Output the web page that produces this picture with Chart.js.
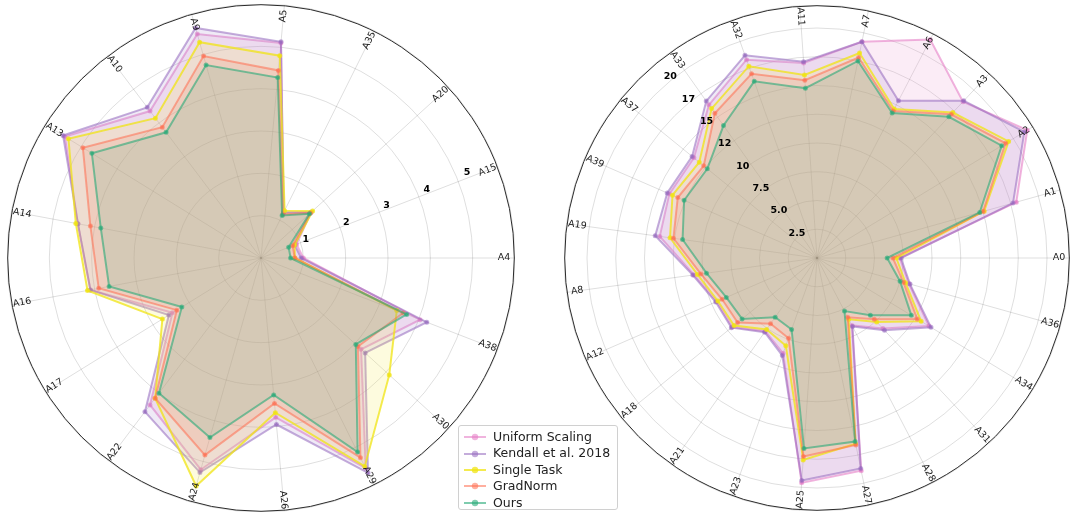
<!DOCTYPE html>
<html>
<head>
<meta charset="utf-8">
<script src="https://cdn.jsdelivr.net/npm/chart.js@4.4.0/dist/chart.umd.min.js"></script>
<style>
  html, body { margin: 0; padding: 0; background: #fff; }
  body { width: 1080px; height: 523px; position: relative; overflow: hidden; font-family: "DejaVu Sans", sans-serif; }
  canvas { position: absolute; }
  #leftChart { left: 7px; top: 4px; }
  #rightChart { left: 564px; top: 5px; }
  #legend {
    position: absolute; left: 458px; top: 425px; width: 160px; height: 85px;
    background: rgba(255,255,255,0.85); border: 1px solid #d0d0d0; border-radius: 3px;
    font-size: 12.5px; color: #222; z-index: 5; box-sizing: border-box; padding: 3px 0 0 4px;
  }
  #legend .row { height: 16.4px; line-height: 16.4px; white-space: nowrap; display: flex; align-items: center; }
  #legend svg { margin-right: 6px; flex: none; }
</style>
</head>
<body>
<canvas id="leftChart" width="508" height="508"></canvas>
<canvas id="rightChart" width="506" height="506"></canvas>
<div id="legend"></div>
<script>
// series names and colours
const seriesNames = ['Uniform Scaling', 'Kendall et al. 2018', 'Single Task', 'GradNorm', 'Ours'];
const lineColors = ['rgba(227,119,194,0.55)', 'rgba(148,103,189,0.55)', 'rgba(240,228,20,0.75)', 'rgba(255,110,80,0.55)', 'rgba(40,170,120,0.6)'];
const fillColors = ['rgba(230,140,200,0.17)', 'rgba(160,130,200,0.17)', 'rgba(245,230,60,0.17)', 'rgba(245,130,100,0.17)', 'rgba(90,180,140,0.17)'];

// left radar (clockwise from east, as Chart.js walks the spokes)
const leftLabels = ['A4', 'A38', 'A30', 'A29', 'A26', 'A24', 'A22', 'A17', 'A16', 'A14', 'A13', 'A10', 'A9', 'A5', 'A35', 'A20', 'A15'];
const leftUniform = [1.0, 4.03, 3.2, 5.55, 3.78, 5.2, 4.35, 2.46, 4.1, 4.4, 5.45, 4.35, 5.5, 5.1, 1.2, 1.6, 0.9];
const leftKendall = [0.95, 4.2, 3.33, 5.67, 3.95, 5.27, 4.55, 2.56, 4.1, 4.4, 5.5, 4.46, 5.65, 5.13, 1.2, 1.6, 0.85];
const leftSingle = [0.8, 3.44, 4.1, 5.5, 3.67, 5.6, 4.15, 2.74, 4.17, 4.45, 5.35, 4.14, 5.3, 4.8, 1.25, 1.65, 0.85];
const leftGradNorm = [0.8, 3.6, 3.1, 5.27, 3.45, 4.84, 4.15, 2.34, 3.9, 4.1, 4.95, 3.87, 4.96, 4.45, 1.15, 1.58, 0.8];
const leftOurs = [0.7, 3.69, 3.03, 5.12, 3.25, 4.41, 4.0, 2.2, 3.65, 3.85, 4.7, 3.72, 4.74, 4.28, 1.12, 1.55, 0.7];
const leftTicks = [1, 2, 3, 4, 5];
const leftTickLabels = ['1', '2', '3', '4', '5'];
const leftMax = 6;

// right radar
const rightLabels = ['A0', 'A36', 'A34', 'A31', 'A28', 'A27', 'A25', 'A23', 'A21', 'A18', 'A12', 'A8', 'A19', 'A39', 'A37', 'A33', 'A32', 'A11', 'A7', 'A6', 'A3', 'A2', 'A1'];
const rightUniform = [7.2, 8.3, 11.4, 8.4, 6.6, 18.9, 19.6, 8.8, 7.8, 9.5, 9.5, 10.8, 13.8, 14.0, 13.8, 16.3, 18.3, 17.0, 19.2, 21.4, 18.6, 21.4, 18.0];
const rightKendall = [7.3, 8.4, 11.6, 8.6, 6.7, 18.7, 19.4, 9.0, 7.9, 9.6, 9.6, 10.9, 14.2, 14.2, 14.0, 16.7, 18.7, 17.1, 19.2, 15.4, 18.7, 21.1, 17.7];
const rightSingle = [6.9, 8.0, 10.6, 7.6, 6.0, 16.5, 17.6, 8.1, 7.6, 9.3, 9.4, 10.5, 12.9, 13.7, 13.2, 15.9, 17.7, 15.95, 18.2, 14.6, 17.3, 19.5, 15.1];
const rightGradNorm = [6.6, 7.8, 10.2, 7.3, 5.8, 16.6, 17.3, 7.4, 7.0, 8.9, 9.0, 10.2, 12.6, 13.2, 12.7, 15.4, 17.0, 15.5, 17.8, 14.4, 17.1, 19.2, 15.0];
const rightOurs = [6.1, 7.5, 9.6, 6.8, 5.2, 16.3, 16.6, 6.6, 6.3, 8.4, 8.6, 9.7, 11.8, 12.6, 12.3, 14.1, 16.3, 14.8, 17.5, 14.2, 16.8, 18.8, 14.7];
const rightTicks = [2.5, 5, 7.5, 10, 12.5, 15, 17.5, 20];
const rightTickLabels = ['2.5', '5.0', '7.5', '10', '12', '15', '17', '20'];
const rightMax = 22;

function makeDatasets(series) {
    return series.map((vals, i) => ({
        label: seriesNames[i],
        data: vals,
        borderColor: lineColors[i],
        backgroundColor: fillColors[i],
        pointBackgroundColor: lineColors[i],
        pointBorderColor: lineColors[i],
        pointRadius: 1.5,
        borderWidth: 2,
        fill: true,
        order: series.length - i   // Ours drawn last, on top
    }));
}

// rim labels, radial tick labels and the black outer circle
const rimPlugin = {
    id: 'rim',
    afterDraw(chart, args, opts) {
        const r = chart.scales.r;
        const ctx = chart.ctx;
        ctx.save();
        ctx.beginPath();
        ctx.arc(r.xCenter, r.yCenter, r.drawingArea - 0.7, 0, Math.PI * 2);
        ctx.strokeStyle = '#2a2a2a';
        ctx.lineWidth = 1;
        ctx.stroke();

        ctx.font = '9.5px "DejaVu Sans"';
        ctx.fillStyle = '#222';
        ctx.textAlign = 'center';
        ctx.textBaseline = 'middle';
        chart.data.labels.forEach((lab, i) => {
            const p = r.getPointPosition(i, r.drawingArea - 11);
            let a = p.angle;
            while (a > Math.PI) a -= Math.PI * 2;
            while (a <= -Math.PI) a += Math.PI * 2;
            if (a > Math.PI / 2 + 1e-6) a -= Math.PI;
            else if (a < -Math.PI / 2 - 1e-6) a += Math.PI;
            ctx.save();
            ctx.translate(p.x, p.y);
            ctx.rotate(a);
            ctx.fillText(lab, 0, 0);
            ctx.restore();
        });

        ctx.font = 'bold 9.5px "DejaVu Sans"';
        ctx.fillStyle = '#000';
        const ang = opts.tickAngle * Math.PI / 180;
        opts.ticks.forEach((v, i) => {
            const d = r.getDistanceFromCenterForValue(v) * opts.tickScale + opts.tickOffset;
            ctx.fillText(opts.tickLabels[i], r.xCenter + Math.cos(ang) * d, r.yCenter + Math.sin(ang) * d);
        });
        ctx.restore();
    }
};

function makeRadar(id, labels, series, max, step, tickOpts) {
    return new Chart(document.getElementById(id), {
        type: 'radar',
        data: { labels: labels, datasets: makeDatasets(series) },
        options: {
            responsive: false,
            animation: false,
            layout: { padding: 0 },
            plugins: {
                legend: { display: false },
                tooltip: { enabled: false },
                rim: tickOpts
            },
            scales: {
                r: {
                    min: 0,
                    max: max,
                    startAngle: 90,
                    ticks: { stepSize: step, display: false, showLabelBackdrop: false },
                    pointLabels: { display: false },
                    grid: { circular: true, color: 'rgba(0,0,0,0.13)', lineWidth: 1 },
                    angleLines: { color: 'rgba(0,0,0,0.13)', lineWidth: 1 }
                }
            }
        },
        plugins: [rimPlugin]
    });
}

makeRadar('leftChart', leftLabels,
    [leftUniform, leftKendall, leftSingle, leftGradNorm, leftOurs], leftMax, 1,
    { ticks: leftTicks, tickLabels: leftTickLabels, tickAngle: -22.5, tickScale: 1.03, tickOffset: 5 });

makeRadar('rightChart', rightLabels,
    [rightUniform, rightKendall, rightSingle, rightGradNorm, rightOurs], rightMax, 2.5,
    { ticks: rightTicks, tickLabels: rightTickLabels, tickAngle: -129, tickScale: 1.0, tickOffset: 3 });

// legend: line with circle marker, like the reference
const legend = document.getElementById('legend');
seriesNames.forEach((name, i) => {
    const row = document.createElement('div');
    row.className = 'row';
    row.innerHTML = `<svg width="24" height="10"><line x1="1" y1="5" x2="23" y2="5" stroke="${lineColors[i]}" stroke-width="2"/>` +
        `<circle cx="12" cy="5" r="3.2" fill="${lineColors[i]}"/></svg><span>${name}</span>`;
    legend.appendChild(row);
});
</script>
</body>
</html>
